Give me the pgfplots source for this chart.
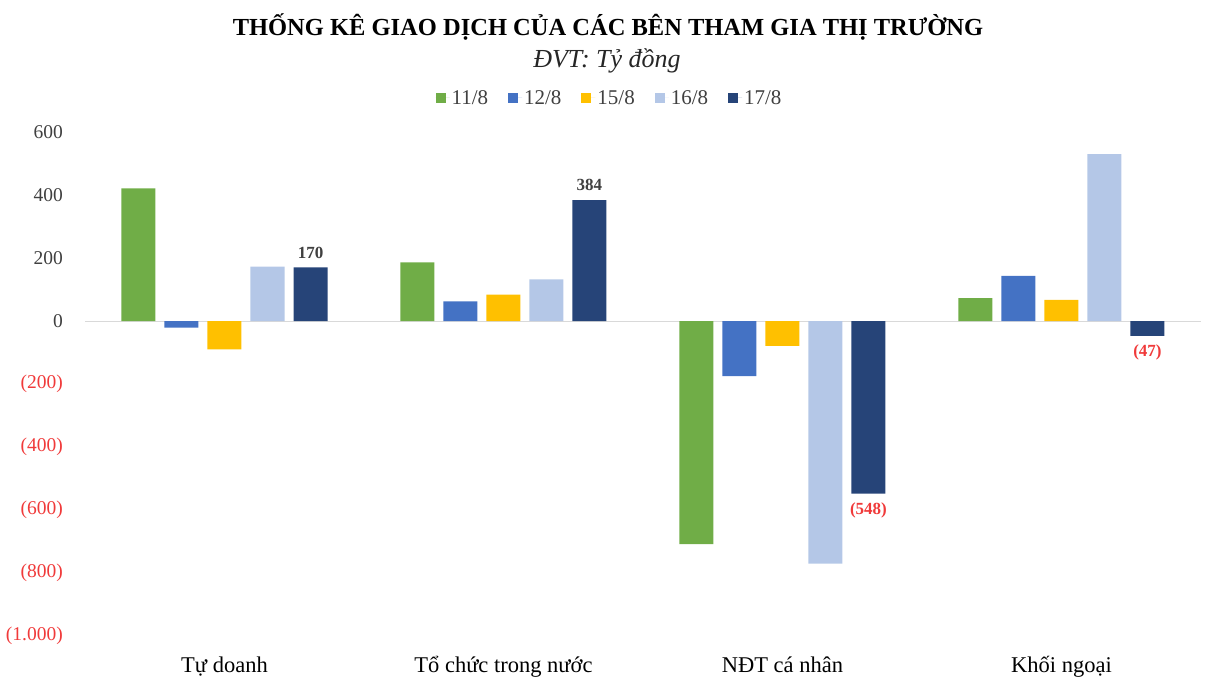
\documentclass[border=0pt]{standalone}
\usepackage{pgfplots}
\pgfplotsset{compat=1.18}
\usepackage{fontspec}
\setmainfont{Liberation Serif}
\definecolor{cGreen}{HTML}{70AD47}
\definecolor{cBlue}{HTML}{4472C4}
\definecolor{cYellow}{HTML}{FFC000}
\definecolor{cLight}{HTML}{B4C7E7}
\definecolor{cDark}{HTML}{264478}
\definecolor{negred}{HTML}{F03A3A}
\definecolor{txtgray}{HTML}{404040}
\begin{document}
\begin{tikzpicture}
\path[use as bounding box] (0pt,0pt) rectangle (1214pt,681pt);
\node[font=\bfseries\fontsize{24.5}{30}\selectfont, text=black] at (608pt,654pt) {THỐNG KÊ GIAO DỊCH CỦA CÁC BÊN THAM GIA THỊ TRƯỜNG};
\node[font=\itshape\fontsize{26}{30}\selectfont, text=black!85] at (607pt,620pt) {ĐVT: Tỷ đồng};
\begin{axis}[
  at={(85pt,45pt)}, anchor=south west,
  scale only axis, width=1116pt, height=504pt,
  ybar=9pt, bar width=34pt,
  xmin=-0.5, xmax=3.5, ymin=-1000, ymax=600,
  axis line style={draw=none},
  major tick length=0pt,
  xtick={0,1,2,3},
  xticklabels={Tự doanh, Tổ chức trong nước, NĐT cá nhân, Khối ngoại},
  xticklabel style={font=\fontsize{22.5}{26}\selectfont, text=black, anchor=base, inner sep=0pt, yshift=-36pt},
  ytick={-1000,-800,-600,-400,-200,0,200,400,600},
  yticklabels={{\color{negred}(1.000)},{\color{negred}(800)},{\color{negred}(600)},{\color{negred}(400)},{\color{negred}(200)},0,200,400,600},
  yticklabel style={font=\fontsize{19.5}{22}\selectfont, text=txtgray, anchor=east, inner sep=0pt, xshift=-22pt},
  extra y ticks={0}, extra y tick labels={},
  extra y tick style={grid=major, major grid style={draw=black!15, line width=1pt}},
  legend style={at={(0.470,1.0675)}, anchor=center, legend columns=5, draw=none, fill=none,
    font=\fontsize{21}{24}\selectfont, text=txtgray,
    /tikz/every even column/.append style={column sep=18pt}},
  every axis plot/.append style={draw=none, legend image code/.code={\fill[##1] (0pt,-5pt) rectangle (10pt,5pt); \path (0pt,0pt) -- (14pt,0pt);}},
  clip=false,
]
\addplot[fill=cGreen] coordinates {(0,421) (1,186) (2,-708) (3,73)};
\addplot[fill=cBlue] coordinates {(0,-21) (1,62) (2,-175) (3,143)};
\addplot[fill=cYellow] coordinates {(0,-90) (1,84) (2,-79) (3,67)};
\addplot[fill=cLight] coordinates {(0,173) (1,132) (2,-770) (3,530)};
\addplot[fill=cDark, point meta=explicit symbolic, nodes near coords,
  visualization depends on={y \as \rawy},
  nodes near coords style={font=\bfseries\fontsize{17}{20}\selectfont, text=txtgray, inner sep=9pt,
    anchor=\ifdim\rawy pt<0pt north\else south\fi}]
  coordinates {(0,170)[170] (1,384)[384] (2,-548)[{\textcolor{negred}{(548)}}] (3,-47)[{\textcolor{negred}{(47)}}]};
\legend{11/8,12/8,15/8,16/8,17/8}
\end{axis}
\end{tikzpicture}
\end{document}
